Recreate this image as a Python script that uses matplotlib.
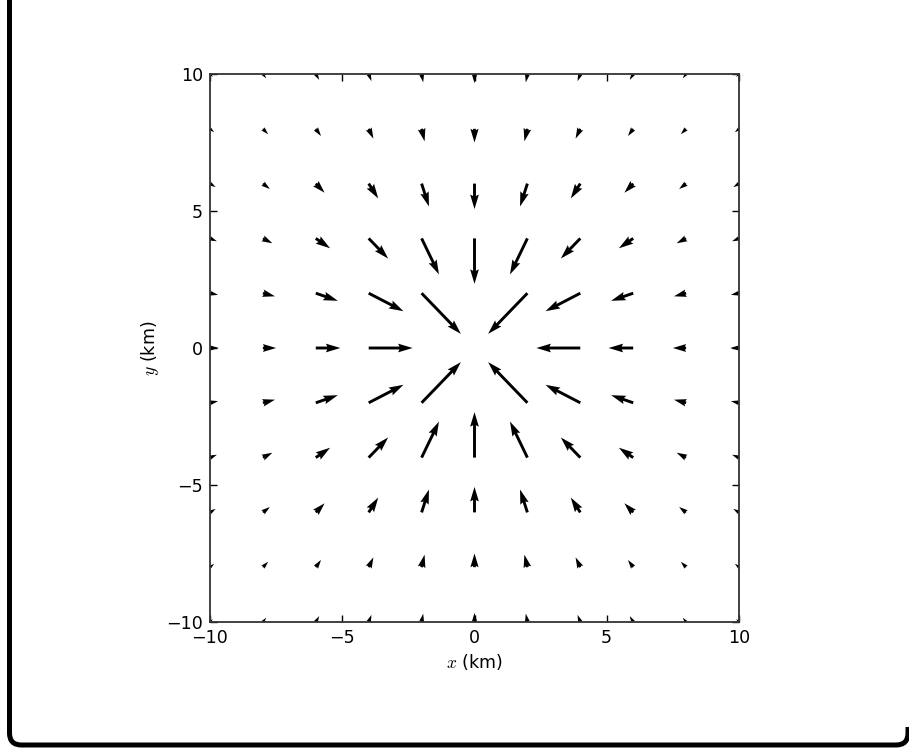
import numpy as np
import matplotlib
matplotlib.use('Agg')
import matplotlib.pyplot as plt
from matplotlib.patches import PathPatch
from matplotlib.path import Path
from matplotlib.transforms import IdentityTransform

plt.rcParams['mathtext.fontset'] = 'cm'
plt.rcParams['font.size'] = 12.6

# grid positions (km)
x_km = [-10, -8, -6, -4, -2, 0, 2, 4, 6, 8, 10]
y_km = [-10, -8, -6, -4, -2, 0, 2, 4, 6, 8, 10]

# inflow speed read off each arrow (rows: y = -10 .. 10, cols: x = -10 .. 10)
# nan where no arrow is drawn
nan = np.nan
speed = [
    [0.15, 0.20, 0.25, 0.28, 0.31, 0.33, 0.31, 0.28, 0.25, 0.20, 0.15],
    [0.20, 0.28, 0.33, 0.40, 0.47, 0.50, 0.47, 0.40, 0.33, 0.28, 0.20],
    [0.25, 0.33, 0.47, 0.65, 0.88, 0.93, 0.88, 0.65, 0.47, 0.33, 0.25],
    [0.28, 0.40, 0.65, 1.04, 1.47, 1.66, 1.47, 1.04, 0.65, 0.40, 0.28],
    [0.31, 0.47, 0.88, 1.47, 2.10, nan,  2.10, 1.47, 0.88, 0.47, 0.31],
    [0.33, 0.50, 0.93, 1.66, nan,  nan,  nan,  1.66, 0.93, 0.50, 0.33],
    [0.31, 0.47, 0.88, 1.47, 2.10, nan,  2.10, 1.47, 0.88, 0.47, 0.31],
    [0.28, 0.40, 0.65, 1.04, 1.47, 1.66, 1.47, 1.04, 0.65, 0.40, 0.28],
    [0.25, 0.33, 0.47, 0.65, 0.88, 0.93, 0.88, 0.65, 0.47, 0.33, 0.25],
    [0.20, 0.28, 0.33, 0.40, 0.47, 0.50, 0.47, 0.40, 0.33, 0.28, 0.20],
    [0.15, 0.20, 0.25, 0.28, 0.31, 0.33, 0.31, 0.28, 0.25, 0.20, 0.15],
]

X, Y = np.meshgrid(x_km, y_km)
S = np.array(speed)
R = np.hypot(X, Y)
R[R == 0] = 1.0
# arrows point towards the centre
U = -S * X / R
V = -S * Y / R
ok = ~np.isnan(S)

fig = plt.figure(figsize=(9.09, 7.49), dpi=100)
fig.patch.set_facecolor('white')

ax = fig.add_axes([210 / 909, 127 / 749, 529 / 909, 548 / 749])
ax.quiver(X[ok], Y[ok], U[ok], V[ok], angles='xy', scale_units='xy', scale=1,
          pivot='tail', color='k', width=0.0055)
ax.set_xlim(-10, 10)
ax.set_ylim(-10, 10)
ax.set_xticks([-10, -5, 0, 5, 10])
ax.set_yticks([-10, -5, 0, 5, 10])
ax.tick_params(direction='in', top=True, right=True, length=5, width=1, pad=5)
for sp in ax.spines.values():
    sp.set_linewidth(1.3)
    sp.set_color('#333333')
ax.set_xlabel('$x$ (km)')
ax.set_ylabel('$y$ (km)')

# card frame: left side, bottom, rounded corners (pixel coords)
verts = [(9.5, 760), (9.5, 16), (9.5, 4), (21.5, 4), (896, 4), (908, 4), (908, 16), (908, 22)]
codes = [Path.MOVETO, Path.LINETO, Path.CURVE3, Path.CURVE3, Path.LINETO,
         Path.CURVE3, Path.CURVE3, Path.LINETO]
frame = PathPatch(Path(verts, codes), transform=IdentityTransform(), facecolor='none',
                  edgecolor='black', linewidth=3.6, clip_on=False)
fig.patches.append(frame)

fig.savefig('out.png', dpi=100)
